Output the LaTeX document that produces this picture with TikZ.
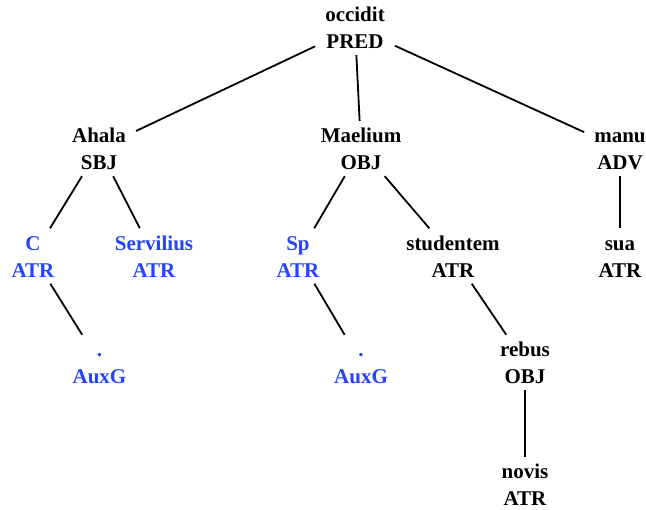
\documentclass[tikz,border=0pt]{standalone}
\usepackage{fontspec}
\setmainfont{Liberation Serif}
\definecolor{tokblue}{RGB}{36,68,250}
\newcommand{\tnode}[2]{\rule{0pt}{22pt}#1\\#2\rule[-6pt]{0pt}{6pt}}
\begin{document}
\begin{tikzpicture}[x=1pt,y=-1pt,
  tn/.style={align=center,inner xsep=10pt,inner ysep=0pt,font=\fontsize{21}{27}\selectfont\bfseries},
  bl/.style={tn,text=tokblue},
  edge/.style={draw=black,line width=1.8pt}]
\useasboundingbox (0,0) rectangle (646,510);
\node[tn] (occidit) at (355,27.5) {\tnode{occidit}{PRED}};
\node[tn] (ahala) at (99,148.5) {\tnode{Ahala}{SBJ}};
\node[tn] (maelium) at (361,148.5) {\tnode{Maelium}{OBJ}};
\node[tn] (manu) at (620,148.5) {\tnode{manu}{ADV}};
\node[bl] (c) at (33,256) {\tnode{C}{ATR}};
\node[bl] (servilius) at (154,256) {\tnode{Servilius}{ATR}};
\node[bl] (sp) at (298,256) {\tnode{Sp}{ATR}};
\node[tn] (studentem) at (453,256) {\tnode{studentem}{ATR}};
\node[tn] (sua) at (620,256) {\tnode{sua}{ATR}};
\node[bl] (dot1) at (99.5,362.5) {\tnode{.}{AuxG}};
\node[bl] (dot2) at (361,362.5) {\tnode{.}{AuxG}};
\node[tn] (rebus) at (525,362.5) {\tnode{rebus}{OBJ}};
\node[tn] (novis) at (525,484.5) {\tnode{novis}{ATR}};
\draw[edge] (occidit) -- (ahala);
\draw[edge] (occidit) -- (maelium);
\draw[edge] (occidit) -- (manu);
\draw[edge] (ahala) -- (c);
\draw[edge] (ahala) -- (servilius);
\draw[edge] (c) -- (dot1);
\draw[edge] (maelium) -- (sp);
\draw[edge] (maelium) -- (studentem);
\draw[edge] (sp) -- (dot2);
\draw[edge] (studentem) -- (rebus);
\draw[edge] (rebus) -- (novis);
\draw[edge] (manu) -- (sua);
\end{tikzpicture}
\end{document}
